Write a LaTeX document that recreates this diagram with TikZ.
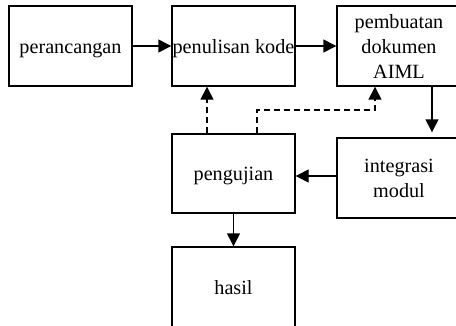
\documentclass[tikz,border=0pt]{standalone}
\usepackage{fontspec}
\setmainfont{Liberation Serif}
\usetikzlibrary{arrows.meta,calc}
\newcommand\boxtxt[1]{\raisebox{-2pt}[\height][\depth]{\begin{tabular}{@{}c@{}}#1\end{tabular}}}
\begin{document}
\begin{tikzpicture}[x=1pt,y=-1pt,
  box/.style={draw,line width=1.4pt,minimum height=80pt,inner sep=0pt,
    font=\fontsize{20.2}{25}\selectfont},
  arr/.style={line width=1.4pt,-{Triangle[length=13pt,width=13pt]}},
  darr/.style={arr,dash pattern=on 6pt off 4pt}]
\useasboundingbox (0,0) rectangle (456,325);
\clip (0,0) rectangle (456,325);
\node[box,minimum width=123pt] (per) at (70.5,46) {\boxtxt{perancangan}};
\node[box,minimum width=123pt] (pen) at (233.5,46) {\boxtxt{penulisan kode}};
\node[box,minimum width=124pt] (pem) at (399,46) {\boxtxt{pembuatan\\dokumen\\AIML}};
\node[box,minimum width=124pt] (int) at (399,178) {\boxtxt{integrasi\\modul}};
\node[box,minimum width=123pt,minimum height=79pt] (peng) at (233.5,173.5) {\boxtxt{pengujian}};
\node[box,minimum width=123pt] (has) at (233.5,287) {\boxtxt{hasil}};
\draw[arr] (per.east) -- (pen.west);
\draw[arr] (pen.east) -- (pem.west);
\coordinate (a1) at ([xshift=33pt]pem.south);
\coordinate (a2) at ([xshift=33pt]int.north);
\draw[arr,shorten >=5pt] (a1) -- (a2);
\coordinate (b1) at ([yshift=2pt]int.west);
\draw[arr] (b1) -- (b1 -| peng.east);
\draw[arr] (peng.south) -- (has.north);
\coordinate (c1) at ([xshift=-26.5pt]peng.north);
\draw[darr] (c1) -- (c1 |- pen.south);
\coordinate (d1) at ([xshift=23.5pt]peng.north);
\coordinate (d3) at ([xshift=-24pt]pem.south);
\coordinate (d2) at (d1 |- 0,110);
\draw[darr] (d1) -- (d2) -- (d2 -| d3) -- (d3);
\end{tikzpicture}
\end{document}
